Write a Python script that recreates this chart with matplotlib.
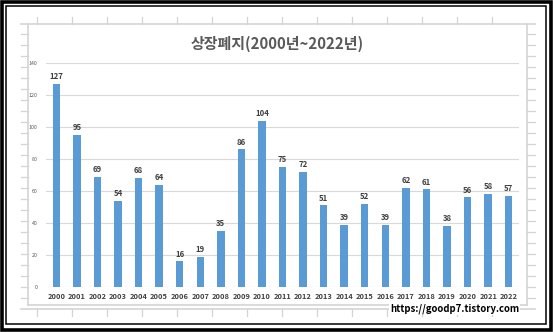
import matplotlib.pyplot as plt
from matplotlib.patches import Rectangle

plt.rcParams['font.family'] = ['Noto Sans CJK KR', 'DejaVu Sans']

# 연도별 상장폐지 건수
years = [str(y) for y in range(2000, 2023)]
delisted = [127, 95, 69, 54, 68, 64, 16, 19, 35, 86, 104, 75,
            72, 51, 39, 52, 39, 62, 61, 38, 56, 58, 57]
y_ticks = [0, 20, 40, 60, 80, 100, 120, 140]

W, H = 553, 332
fig = plt.figure(figsize=(W / 100, H / 100), dpi=100)

# background layer in pixel units: frame, chart border, ruler ticks
bg = fig.add_axes([0, 0, 1, 1])
bg.set_xlim(0, W)
bg.set_ylim(H, 0)
bg.axis('off')
bg.add_patch(Rectangle((1.5, 1.5), W - 3.5, H - 4, fill=False, ec='black', lw=2.6))
bg.add_patch(Rectangle((6, 6), 539.5, 317.5, fill=False, ec='black', lw=1.1))

grey = '#d4d4d4'
bg.plot([21, 535], [24, 24], color=grey, lw=1.2)
bg.plot([28, 28], [24, 305], color=grey, lw=1.2)
bg.plot([527, 527], [24, 305], color=grey, lw=1.2)
bg.plot([28, 527], [305, 305], color=grey, lw=1.2)
bg.plot([21, 535], [309, 309], color=grey, lw=1.2)
for x in range(37, 527, 35):
    bg.plot([x, x], [17, 24], color=grey, lw=0.9)
    bg.plot([x, x], [309, 316], color=grey, lw=0.9)
for y in range(34, 305, 11):
    bg.plot([21, 28], [y, y], color=grey, lw=0.9)
    bg.plot([527, 535], [y, y], color=grey, lw=0.9)

# bar chart
ax = fig.add_axes([46 / W, 45 / H, 473 / W, 224 / H])
ax.set_facecolor('none')
bars = ax.bar(years, delisted, width=0.36, color='#5b9bd5', zorder=3)
ax.bar_label(bars, labels=[str(v) for v in delisted], padding=2,
             fontsize=5.6, fontweight='bold', color='#404040')
ax.set_xlim(-0.5, len(years) - 0.5)
ax.set_ylim(0, 140)
ax.set_yticks(y_ticks)
ax.set_yticklabels([str(t) for t in y_ticks], fontsize=3.8, color='#595959')
ax.grid(axis='y', color='#d9d9d9', lw=0.8, zorder=0)
ax.tick_params(axis='both', length=0)
ax.tick_params(axis='y', pad=6)
ax.tick_params(axis='x', pad=4)
for lbl in ax.get_xticklabels():
    lbl.set_fontsize(5.4)
    lbl.set_fontweight('bold')
    lbl.set_color('#404040')
for s in ax.spines.values():
    s.set_visible(False)

fig.text(277 / W, 1 - 44 / H, '상장폐지(2000년~2022년)', ha='center', va='center',
         fontsize=10.8, fontweight='bold', color='#595959')
fig.text(519 / W, 1 - 309 / H, 'https://goodp7.tistory.com', ha='right', va='center',
         fontsize=6.9, fontweight='bold', color='black',
         bbox=dict(facecolor='white', edgecolor='none', pad=0.5))

fig.savefig('out.png', dpi=100)
